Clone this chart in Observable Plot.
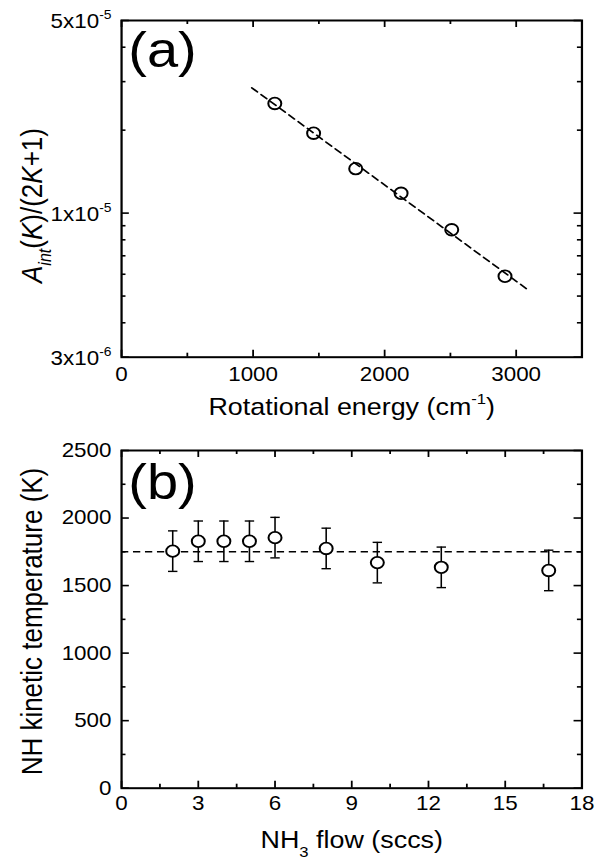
<!DOCTYPE html>
<html><head><meta charset="utf-8">
<script src="https://cdn.jsdelivr.net/npm/d3@7"></script>
<script src="https://cdn.jsdelivr.net/npm/@observablehq/plot@0.6"></script>
<style>
html,body{margin:0;padding:0;background:#fff;}
#chart svg{display:block;}
</style></head><body><div id="chart"></div>
<script>
// ---------- data: panel (a) ----------
const energy = [1165, 1460, 1780, 2125, 2510, 2915];
const aint = [2.50e-5, 1.95e-5, 1.45e-5, 1.18e-5, 8.7e-6, 5.9e-6];
const fitEnergy = [990, 3080];
const fitAint = [2.85e-5, 5.31e-6];
const energyTicks = [0, 1000, 2000, 3000];
const energyMinorTicks = [500, 1500, 2500];
const aintTicks = [3e-6, 1e-5, 5e-5];
const aintTickLabels = ["3x10^{-6}", "1x10^{-5}", "5x10^{-5}"];
const aintMinorTicks = [4e-6, 5e-6, 6e-6, 7e-6, 8e-6, 9e-6, 2e-5, 3e-5, 4e-5];

// ---------- data: panel (b) ----------
const flow = [2, 3, 4, 5, 6, 8, 10, 12.5, 16.7];
const temp = [1755, 1828, 1828, 1828, 1855, 1775, 1670, 1635, 1612];
const tempErr = [150, 150, 150, 150, 150, 150, 150, 150, 150];
const meanTemp = 1750;
const flowRange = [0, 18];
const flowTicks = [0, 3, 6, 9, 12, 15, 18];
const flowMinorTicks = [1.5, 4.5, 7.5, 10.5, 13.5, 16.5];
const tempTicks = [0, 500, 1000, 1500, 2000, 2500];
const tempMinorTicks = [250, 750, 1250, 1750, 2250];

// ---------- layout ----------
const S = 1.12;               // horizontal stretch of the original figure
const W = 602 / S;
const H = 431;
const ML = 121 / S, MR = 18.4;
const MB = H - 356.7;
const FONT = "'Liberation Sans', Arial, Helvetica, sans-serif";
const MAJ = 7, MIN = 4;

// inward ticks on all four sides of the frame
function frameTicks(xMajor, xMinor, yMajor, yMinor, marginTop) {
  const fh = H - marginTop - MB;
  const fw = W - ML - MR;
  const sw = 1.6;
  const out = [];
  for (const [arr, len] of [[xMajor, MAJ], [xMinor, MIN]]) {
    out.push(Plot.tickX(arr, {x: d => d, insetTop: fh - len, stroke: "black", strokeWidth: sw}));
    out.push(Plot.tickX(arr, {x: d => d, insetBottom: fh - len, stroke: "black", strokeWidth: sw}));
  }
  for (const [arr, len] of [[yMajor, MAJ], [yMinor, MIN]]) {
    out.push(Plot.tickY(arr, {y: d => d, insetRight: fw - len, stroke: "black", strokeWidth: sw}));
    out.push(Plot.tickY(arr, {y: d => d, insetLeft: fw - len, stroke: "black", strokeWidth: sw}));
  }
  return out;
}

const style = {fontFamily: FONT, fontSize: "20px", color: "black", background: "white", overflow: "visible"};

// ---------- panel (a) ----------
const pts = energy.map((e, i) => ({e, a: aint[i]}));
const fit = fitEnergy.map((e, i) => ({e, a: fitAint[i]}));
const plotA = Plot.plot({
  width: W, height: H,
  marginLeft: ML, marginRight: MR, marginTop: 20, marginBottom: MB,
  style,
  x: {domain: [0, 3500], axis: null},
  y: {type: "log", domain: [3e-6, 5e-5], axis: null},
  marks: [
    ...frameTicks(energyTicks, energyMinorTicks, aintTicks, aintMinorTicks, 20),
    Plot.axisX({ticks: energyTicks, anchor: "bottom", tickSize: 0, tickPadding: 9.3, label: null, tickFormat: d => String(d)}),
    Plot.axisY({ticks: aintTicks, anchor: "left", tickSize: 0, tickPadding: 9, label: null, dy: 1.5,
      tickFormat: d => aintTickLabels[aintTicks.indexOf(d)]}),
    Plot.line(fit, {x: "e", y: "a", stroke: "black", strokeWidth: 1.6, strokeDasharray: "6.5,4.2"}),
    Plot.dot(pts, {x: "e", y: "a", r: 5.8, stroke: "black", strokeWidth: 1.8, fill: "none"}),
    Plot.text(["(a)"], {frameAnchor: "top-left", textAnchor: "start", lineAnchor: "top", fontSize: 50, dx: 6, dy: 10.5}),
    Plot.text(["Rotational energy (cm^{-1})"], {frameAnchor: "bottom", textAnchor: "middle", lineAnchor: "top", fontSize: 24, dy: 40.6}),
    Plot.text(["*A*_{*int*}(*K*)/(2*K*+1)"], {frameAnchor: "left", rotate: -90, textAnchor: "middle", lineAnchor: "top", fontSize: 26, dx: -89.5, dy: 16.7}),
    Plot.frame({stroke: "black", strokeWidth: 2})
  ]
});

// ---------- panel (b) ----------
const rows = flow.map((f, i) => ({f, t: temp[i], lo: temp[i] - tempErr[i], hi: temp[i] + tempErr[i]}));
const capSymbol = {draw(ctx, size) { const r = Math.sqrt(size / Math.PI); ctx.moveTo(-r, 0); ctx.lineTo(r, 0); }};
const plotB = Plot.plot({
  width: W, height: H,
  marginLeft: ML, marginRight: MR, marginTop: 19, marginBottom: MB,
  style,
  x: {domain: flowRange, axis: null},
  y: {domain: [0, 2500], axis: null},
  marks: [
    ...frameTicks(flowTicks, flowMinorTicks, tempTicks, tempMinorTicks, 19),
    Plot.axisX({ticks: flowTicks, anchor: "bottom", tickSize: 0, tickPadding: 7.5, label: null, tickFormat: d => String(d)}),
    Plot.axisY({ticks: tempTicks, anchor: "left", tickSize: 0, tickPadding: 9, label: null, tickFormat: d => String(d)}),
    Plot.ruleY([meanTemp], {stroke: "black", strokeWidth: 1.6, strokeDasharray: "6.5,4.2"}),
    Plot.ruleX(rows, {x: "f", y1: "lo", y2: "hi", stroke: "black", strokeWidth: 1.4}),
    Plot.dot(rows, {x: "f", y: "lo", symbol: capSymbol, r: 4.2, stroke: "black", strokeWidth: 1.4, fill: "none"}),
    Plot.dot(rows, {x: "f", y: "hi", symbol: capSymbol, r: 4.2, stroke: "black", strokeWidth: 1.4, fill: "none"}),
    Plot.dot(rows, {x: "f", y: "t", r: 5.8, stroke: "black", strokeWidth: 1.8, fill: "white"}),
    Plot.text(["(b)"], {frameAnchor: "top-left", textAnchor: "start", lineAnchor: "top", fontSize: 50, dx: 6, dy: 12.8}),
    Plot.text(["NH_[3] flow (sccs)"], {frameAnchor: "bottom", textAnchor: "middle", lineAnchor: "top", fontSize: 24, dy: 42.5}),
    Plot.text(["NH kinetic temperature (K)"], {frameAnchor: "left", rotate: -90, textAnchor: "middle", lineAnchor: "top", fontSize: 26, dx: -89.5, dy: 2.2}),
    Plot.frame({stroke: "black", strokeWidth: 2})
  ]
});

// ---------- rich text (super/subscripts, italics) ----------
function richify(svg) {
  svg.querySelectorAll("text").forEach(t => {
    if (t.querySelector("tspan")) return;
    const s = t.textContent;
    if (!/[\^_*]/.test(s)) return;
    const tokens = s.split(/(\^\{[^}]*\}|_\{[^}]*\}|_\[[^\]]*\])/).filter(x => x !== "");
    t.textContent = "";
    let pending = 0;
    for (const tok of tokens) {
      let content = tok, shift = 0, scale = 1;
      if (tok.startsWith("^{")) { content = tok.slice(2, -1); shift = -0.45; scale = 0.62; }
      else if (tok.startsWith("_{")) { content = tok.slice(2, -1); shift = 0.3; scale = 0.62; }
      else if (tok.startsWith("_[")) { content = tok.slice(2, -1); shift = 0.4; scale = 0.62; }
      let first = true;
      content.split("*").forEach((p, i) => {
        if (p === "") return;
        const ts = d3.select(t).append("tspan").text(p);
        if (i % 2 === 1) ts.attr("font-style", "italic");
        if (scale !== 1) ts.style("font-size", scale + "em");
        if (first) {
          const dyBase = shift - pending;
          if (dyBase !== 0) ts.attr("dy", (dyBase / scale) + "em");
          pending = shift;
          first = false;
        }
      });
    }
  });
}

const host = document.getElementById("chart");
for (const svg of [plotA, plotB]) {
  host.appendChild(svg);
  richify(svg);
  svg.setAttribute("width", 602);
  svg.setAttribute("height", H);
  svg.setAttribute("preserveAspectRatio", "none");
  svg.style.width = "602px";
  svg.style.height = H + "px";
  svg.style.maxWidth = "none";
}
</script>
</body></html>
